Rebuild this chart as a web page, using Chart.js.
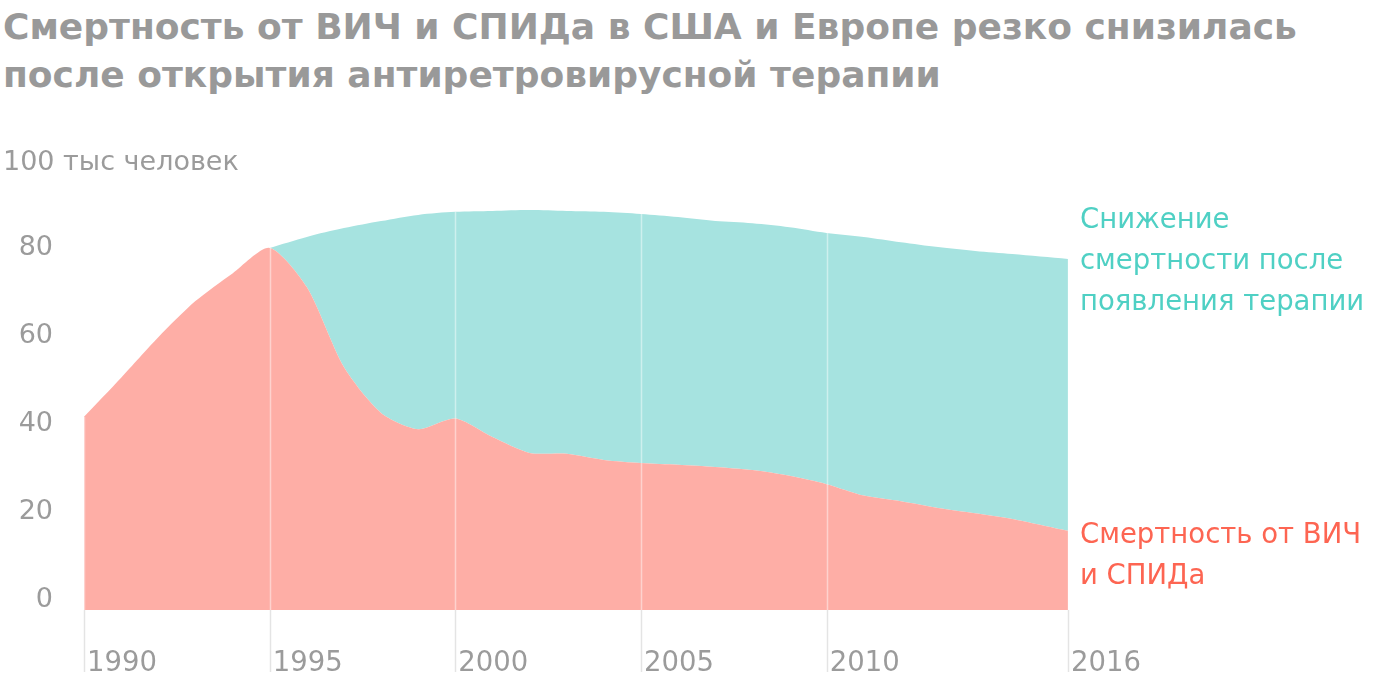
<!DOCTYPE html>
<html lang="ru">
<head>
<meta charset="utf-8">
<title>Смертность от ВИЧ и СПИДа</title>
<script src="https://cdn.jsdelivr.net/npm/chart.js@4/dist/chart.umd.min.js"></script>
<style>
    html, body { margin: 0; padding: 0; background: #fff; }
    #wrap { position: relative; width: 1400px; height: 680px; overflow: hidden; font-family: "DejaVu Sans", Roboto, sans-serif; }
    #title { position: absolute; left: 3px; top: 3px; margin: 0; font-size: 36px; line-height: 48px; font-weight: 700; color: #999; }
    canvas { position: absolute; left: 0; top: 0; }
    .note { position: absolute; left: 1080px; font-size: 27.5px; line-height: 41px; }
    #note-teal { top: 198px; color: #4fd0c4; }
    #note-red { top: 513px; color: #fd6552; }
</style>
</head>
<body>
<div id="wrap">
    <h1 id="title">Смертность от ВИЧ и СПИДа в США и Европе резко снизилась<br>после открытия антиретровирусной терапии</h1>
    <canvas id="myChart" width="1400" height="680"></canvas>
    <div class="note" id="note-teal">Снижение<br>смертности после<br>появления терапии</div>
    <div class="note" id="note-red">Смертность от ВИЧ<br>и СПИДа</div>
</div>
<script>
// годы (последняя точка стоит у правого края оси, подпись 2016)
const years = [1990, 1991, 1992, 1993, 1994, 1995, 1996, 1997, 1998, 1999, 2000, 2001, 2002, 2003,
    2004, 2005, 2006, 2007, 2008, 2009, 2010, 2011, 2012, 2013, 2014, 2015, 2016.5];

// фактическая смертность, тыс человек
const deaths = [43.9, 52.8, 62.0, 70.2, 76.5, 82.3, 73.4, 55.2, 44.8, 41.1, 43.5, 39.3, 35.7, 35.5,
    34.1, 33.4, 33.0, 32.5, 31.8, 30.5, 28.6, 26.0, 24.7, 23.2, 22.0, 20.7, 18.0];

// ожидаемая смертность без терапии (верхняя граница бирюзовой области)
const projected = [null, null, null, null, null, 82.3, 84.8, 86.8, 88.4, 89.8, 90.5, 90.7, 90.9, 90.7,
    90.5, 90.0, 89.3, 88.4, 87.9, 87.0, 85.7, 84.8, 83.6, 82.5, 81.6, 80.9, 79.8];

const xTickValues = [1990, 1995, 2000, 2005, 2010, 2016.5];
const xTickLabels = ['1990', '1995', '2000', '2005', '2010', '2016'];
const yTickValues = [0, 20, 40, 60, 80, 100];
const yTopLabel = '100 тыс человек';

const RED = '#feaea6';
const TEAL = '#a6e3e0';
const GREY_TEXT = '#9b9b9b';
const FONT = '"DejaVu Sans", Roboto, sans-serif';

// вертикальные линии годов: белые поверх заливки, серые под осью
const yearLines = {
    id: 'yearLines',
    afterDatasetsDraw(chart) {
        const { ctx, scales: { x, y } } = chart;
        const bottom = y.getPixelForValue(0);
        ctx.save();
        ctx.lineWidth = 1.5;
        xTickValues.forEach(v => {
            const i = years.indexOf(v);
            const top = projected[i] !== null ? projected[i] : deaths[i];
            const px = Math.round(x.getPixelForValue(v)) + 0.5;
            ctx.strokeStyle = 'rgba(255, 255, 255, 0.45)';
            ctx.beginPath();
            ctx.moveTo(px, y.getPixelForValue(top));
            ctx.lineTo(px, bottom);
            ctx.stroke();
            ctx.strokeStyle = '#e4e4e4';
            ctx.beginPath();
            ctx.moveTo(px, bottom);
            ctx.lineTo(px, bottom + 62);
            ctx.stroke();
        });
        // подпись единиц вместо отметки 100
        ctx.fillStyle = GREY_TEXT;
        ctx.font = '27px ' + FONT;
        ctx.textAlign = 'left';
        ctx.textBaseline = 'alphabetic';
        ctx.fillText(yTopLabel, 3, y.getPixelForValue(100));
        ctx.restore();
    }
};

document.addEventListener('DOMContentLoaded', () => {
    const ctx = document.getElementById('myChart').getContext('2d');

    new Chart(ctx, {
        type: 'line',
        data: {
            datasets: [{
                label: 'Смертность от ВИЧ и СПИДа',
                data: years.map((yr, i) => ({ x: yr, y: deaths[i] })),
                backgroundColor: RED,
                borderColor: RED,
                borderWidth: 0,
                pointRadius: 0,
                tension: 0.25,
                fill: 'origin'
            }, {
                label: 'Снижение смертности после появления терапии',
                data: years.map((yr, i) => ({ x: yr, y: projected[i] })),
                backgroundColor: TEAL,
                borderColor: TEAL,
                borderWidth: 0,
                pointRadius: 0,
                tension: 0.3,
                spanGaps: false,
                fill: '-1'
            }]
        },
        options: {
            responsive: false,
            devicePixelRatio: 1,
            animation: false,
            layout: { padding: { top: 170, right: 332, left: 0, bottom: 0 } },
            plugins: {
                legend: { display: false },
                tooltip: { enabled: false }
            },
            scales: {
                x: {
                    type: 'linear',
                    min: 1990,
                    max: 2016.5,
                    grid: { display: false },
                    border: { display: false },
                    afterBuildTicks: (scale) => {
                        scale.ticks = xTickValues.map(v => ({ value: v }));
                    },
                    afterFit: (scale) => { scale.height = 70; },
                    ticks: {
                        align: 'start',
                        labelOffset: 3,
                        padding: 29,
                        maxRotation: 0,
                        autoSkip: false,
                        color: GREY_TEXT,
                        font: { family: FONT, size: 27.5 },
                        callback: (value) => xTickLabels[xTickValues.indexOf(value)]
                    }
                },
                y: {
                    min: 0,
                    max: 100,
                    grid: { display: false },
                    border: { display: false },
                    afterBuildTicks: (scale) => {
                        scale.ticks = yTickValues.map(v => ({ value: v }));
                    },
                    afterFit: (scale) => { scale.width = 84; },
                    ticks: {
                        padding: 23,
                        labelOffset: -10,
                        color: GREY_TEXT,
                        font: { family: FONT, size: 27 },
                        callback: (value) => value === 100 ? '' : String(value)
                    }
                }
            }
        },
        plugins: [yearLines]
    });
});
</script>
</body>
</html>
